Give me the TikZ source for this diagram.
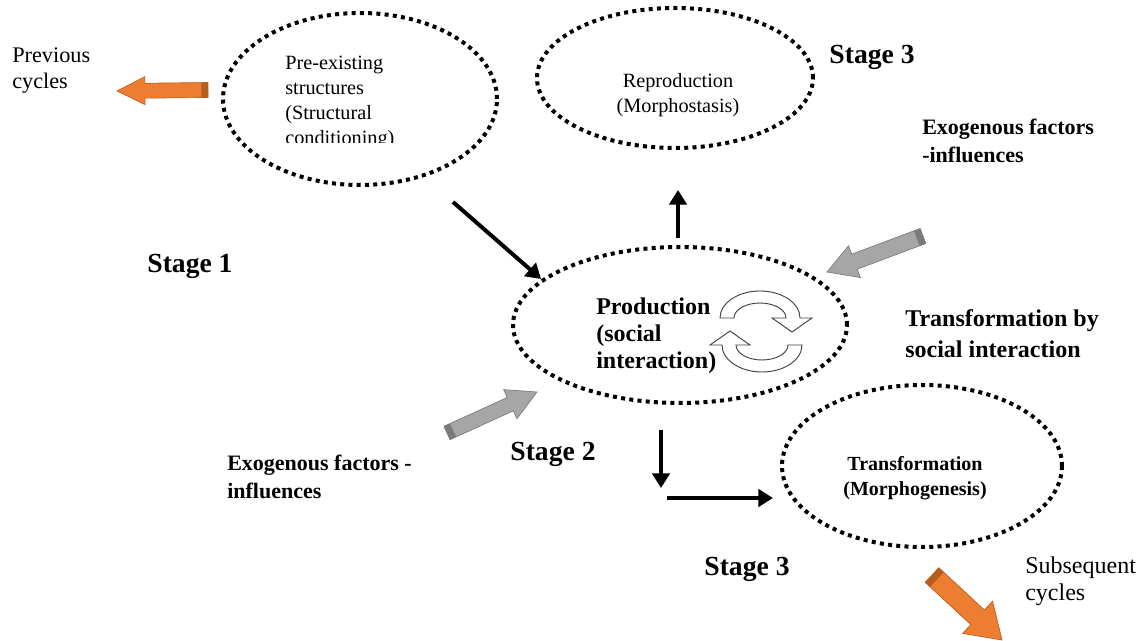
\documentclass[tikz,border=0pt]{standalone}
\usepackage{fontspec}
\setmainfont{Liberation Serif}
\usetikzlibrary{shapes.geometric,arrows.meta,calc}

\definecolor{orangefill}{HTML}{ED7D31}
\definecolor{orangeedge}{HTML}{B65E1F}
\definecolor{grayfill}{HTML}{A6A6A6}
\definecolor{grayedge}{HTML}{7A7A7A}
\definecolor{cycleline}{HTML}{404040}

% block arrow: tail, tip, half shaft, half head, head length, fill, edge
\newcommand\blockarrow[7]{%
  \coordinate (ba-n) at ($(#2)!#5!(#1)$);
  \coordinate (ba-c) at ($(#1)!5pt!(#2)$);
  \filldraw[fill=#6, draw=#7, line width=0.5pt, line join=miter]
    ($(#1)!#3!90:(#2)$) -- ($(ba-n)!#3!90:(#2)$) -- ($(ba-n)!#4!90:(#2)$) -- (#2)
    -- ($(ba-n)!#4!-90:(#2)$) -- ($(ba-n)!#3!-90:(#2)$) -- ($(#1)!#3!-90:(#2)$) -- cycle;
  \fill[#7] ($(#1)!#3!90:(#2)$) -- ($(ba-c)!#3!90:(#2)$) -- ($(ba-c)!#3!-90:(#2)$)
    -- ($(#1)!#3!-90:(#2)$) -- cycle;
}

\tikzset{
  dotell/.style={ellipse, draw, line width=3pt, dash pattern=on 3pt off 3.2pt, inner sep=0pt},
  flow/.style={line width=3pt, -{Triangle[length=11pt,width=13pt]}},
  lbl/.style={inner sep=0pt, align=left, anchor=west},
  clbl/.style={inner sep=0pt, align=center},
  stagelbl/.style={inner sep=0pt, font=\fontsize{20.7}{24}\selectfont\bfseries},
  cyc/.style={fill=white, draw=cycleline, line width=0.7pt, line join=miter},
}

\begin{document}
\begin{tikzpicture}[x=0.75pt, y=-0.75pt]
\useasboundingbox (0,0) rectangle (1139,641);

% dotted ellipses
\node[dotell, minimum width=205.5pt, minimum height=129pt] (pre) at (360,99) {};
\node[dotell, minimum width=207pt, minimum height=105pt] (repro) at (675,78) {};
\node[dotell, minimum width=250.5pt, minimum height=117pt] (prod) at (680,325) {};
\node[dotell, minimum width=210pt, minimum height=121.5pt] (transf) at (922,466) {};

% texts inside ellipses
\begin{scope}
  \clip (200,20) rectangle (480,143);
  \node[lbl, font=\fontsize{15.2}{18.75}\selectfont] (pretext) at (285,102)
    {Pre-existing\\structures\\(Structural\\conditioning)};
\end{scope}
\node[clbl, font=\fontsize{15.2}{19}\selectfont] (reprotext) at (678,95)
  {Reproduction\\(Morphostasis)};
\node[lbl, font=\fontsize{18}{20.25}\selectfont\bfseries] (prodtext) at (596,336)
  {Production\\(social\\interaction)};
\node[clbl, font=\fontsize{15}{19}\selectfont\bfseries] (transftext) at (915,478)
  {Transformation\\(Morphogenesis)};

% outside labels
\node[lbl, font=\fontsize{16.7}{19.5}\selectfont] (prev) at (12,71) {Previous\\cycles};
\node[stagelbl] (stagethreetop) at (872,57) {Stage 3};
\node[lbl, font=\fontsize{16.5}{21}\selectfont\bfseries] (exotop) at (922,141)
  {Exogenous factors\\-influences};
\node[stagelbl] (stageone) at (190,266) {Stage 1};
\node[lbl, font=\fontsize{18}{23}\selectfont\bfseries] (translbl) at (905,334)
  {Transformation by\\social interaction};
\node[stagelbl] (stagetwo) at (553,454) {Stage 2};
\node[lbl, font=\fontsize{16.5}{21}\selectfont\bfseries] (exobot) at (227,477)
  {Exogenous factors -\\influences};
\node[stagelbl] (stagethreebot) at (747,569) {Stage 3};
\node[lbl, font=\fontsize{18}{20}\selectfont] (subs) at (1025,581) {Subsequent\\cycles};

% black flow arrows
\coordinate (a1s) at (453,202); \coordinate (a1e) at (541,279);
\coordinate (a2s) at (678,238); \coordinate (a2e) at (678,190);
\coordinate (a3s) at (661,430); \coordinate (a3e) at (661,488);
\coordinate (a4s) at (667,498); \coordinate (a4e) at (773,498);
\draw[flow] (a1s) -- (a1e);
\draw[flow] (a2s) -- (a2e);
\draw[flow] (a3s) -- (a3e);
\draw[flow] (a4s) -- (a4e);

% block arrows
\coordinate (o1t) at (208,90);  \coordinate (o1h) at (117,91);
\blockarrow{o1t}{o1h}{5.6pt}{10.5pt}{21pt}{orangefill}{orangeedge}
\coordinate (o2t) at (932,575); \coordinate (o2h) at (1002,640);
\blockarrow{o2t}{o2h}{7.5pt}{16.5pt}{25pt}{orangefill}{orangeedge}
\coordinate (g1t) at (923,236); \coordinate (g1h) at (827,272);
\blockarrow{g1t}{g1h}{6pt}{12.75pt}{22pt}{grayfill}{grayedge}
\coordinate (g2t) at (447,433); \coordinate (g2h) at (537,392);
\blockarrow{g2t}{g2h}{5.5pt}{12pt}{22pt}{grayfill}{grayedge}

% circular arrows inside the production ellipse
\begin{scope}[shift={(760,318)}]
  \path[cyc] (-40,0) arc[start angle=180, end angle=360, x radius=40, y radius=27]
    -- (52,0) -- (32,14) -- (12,0) -- (26,0)
    arc[start angle=360, end angle=180, x radius=26, y radius=15] -- cycle;
\end{scope}
\begin{scope}[shift={(762,345)}, rotate=180]
  \path[cyc] (-40,0) arc[start angle=180, end angle=360, x radius=40, y radius=27]
    -- (52,0) -- (32,14) -- (12,0) -- (26,0)
    arc[start angle=360, end angle=180, x radius=26, y radius=15] -- cycle;
\end{scope}
\end{tikzpicture}
\end{document}
